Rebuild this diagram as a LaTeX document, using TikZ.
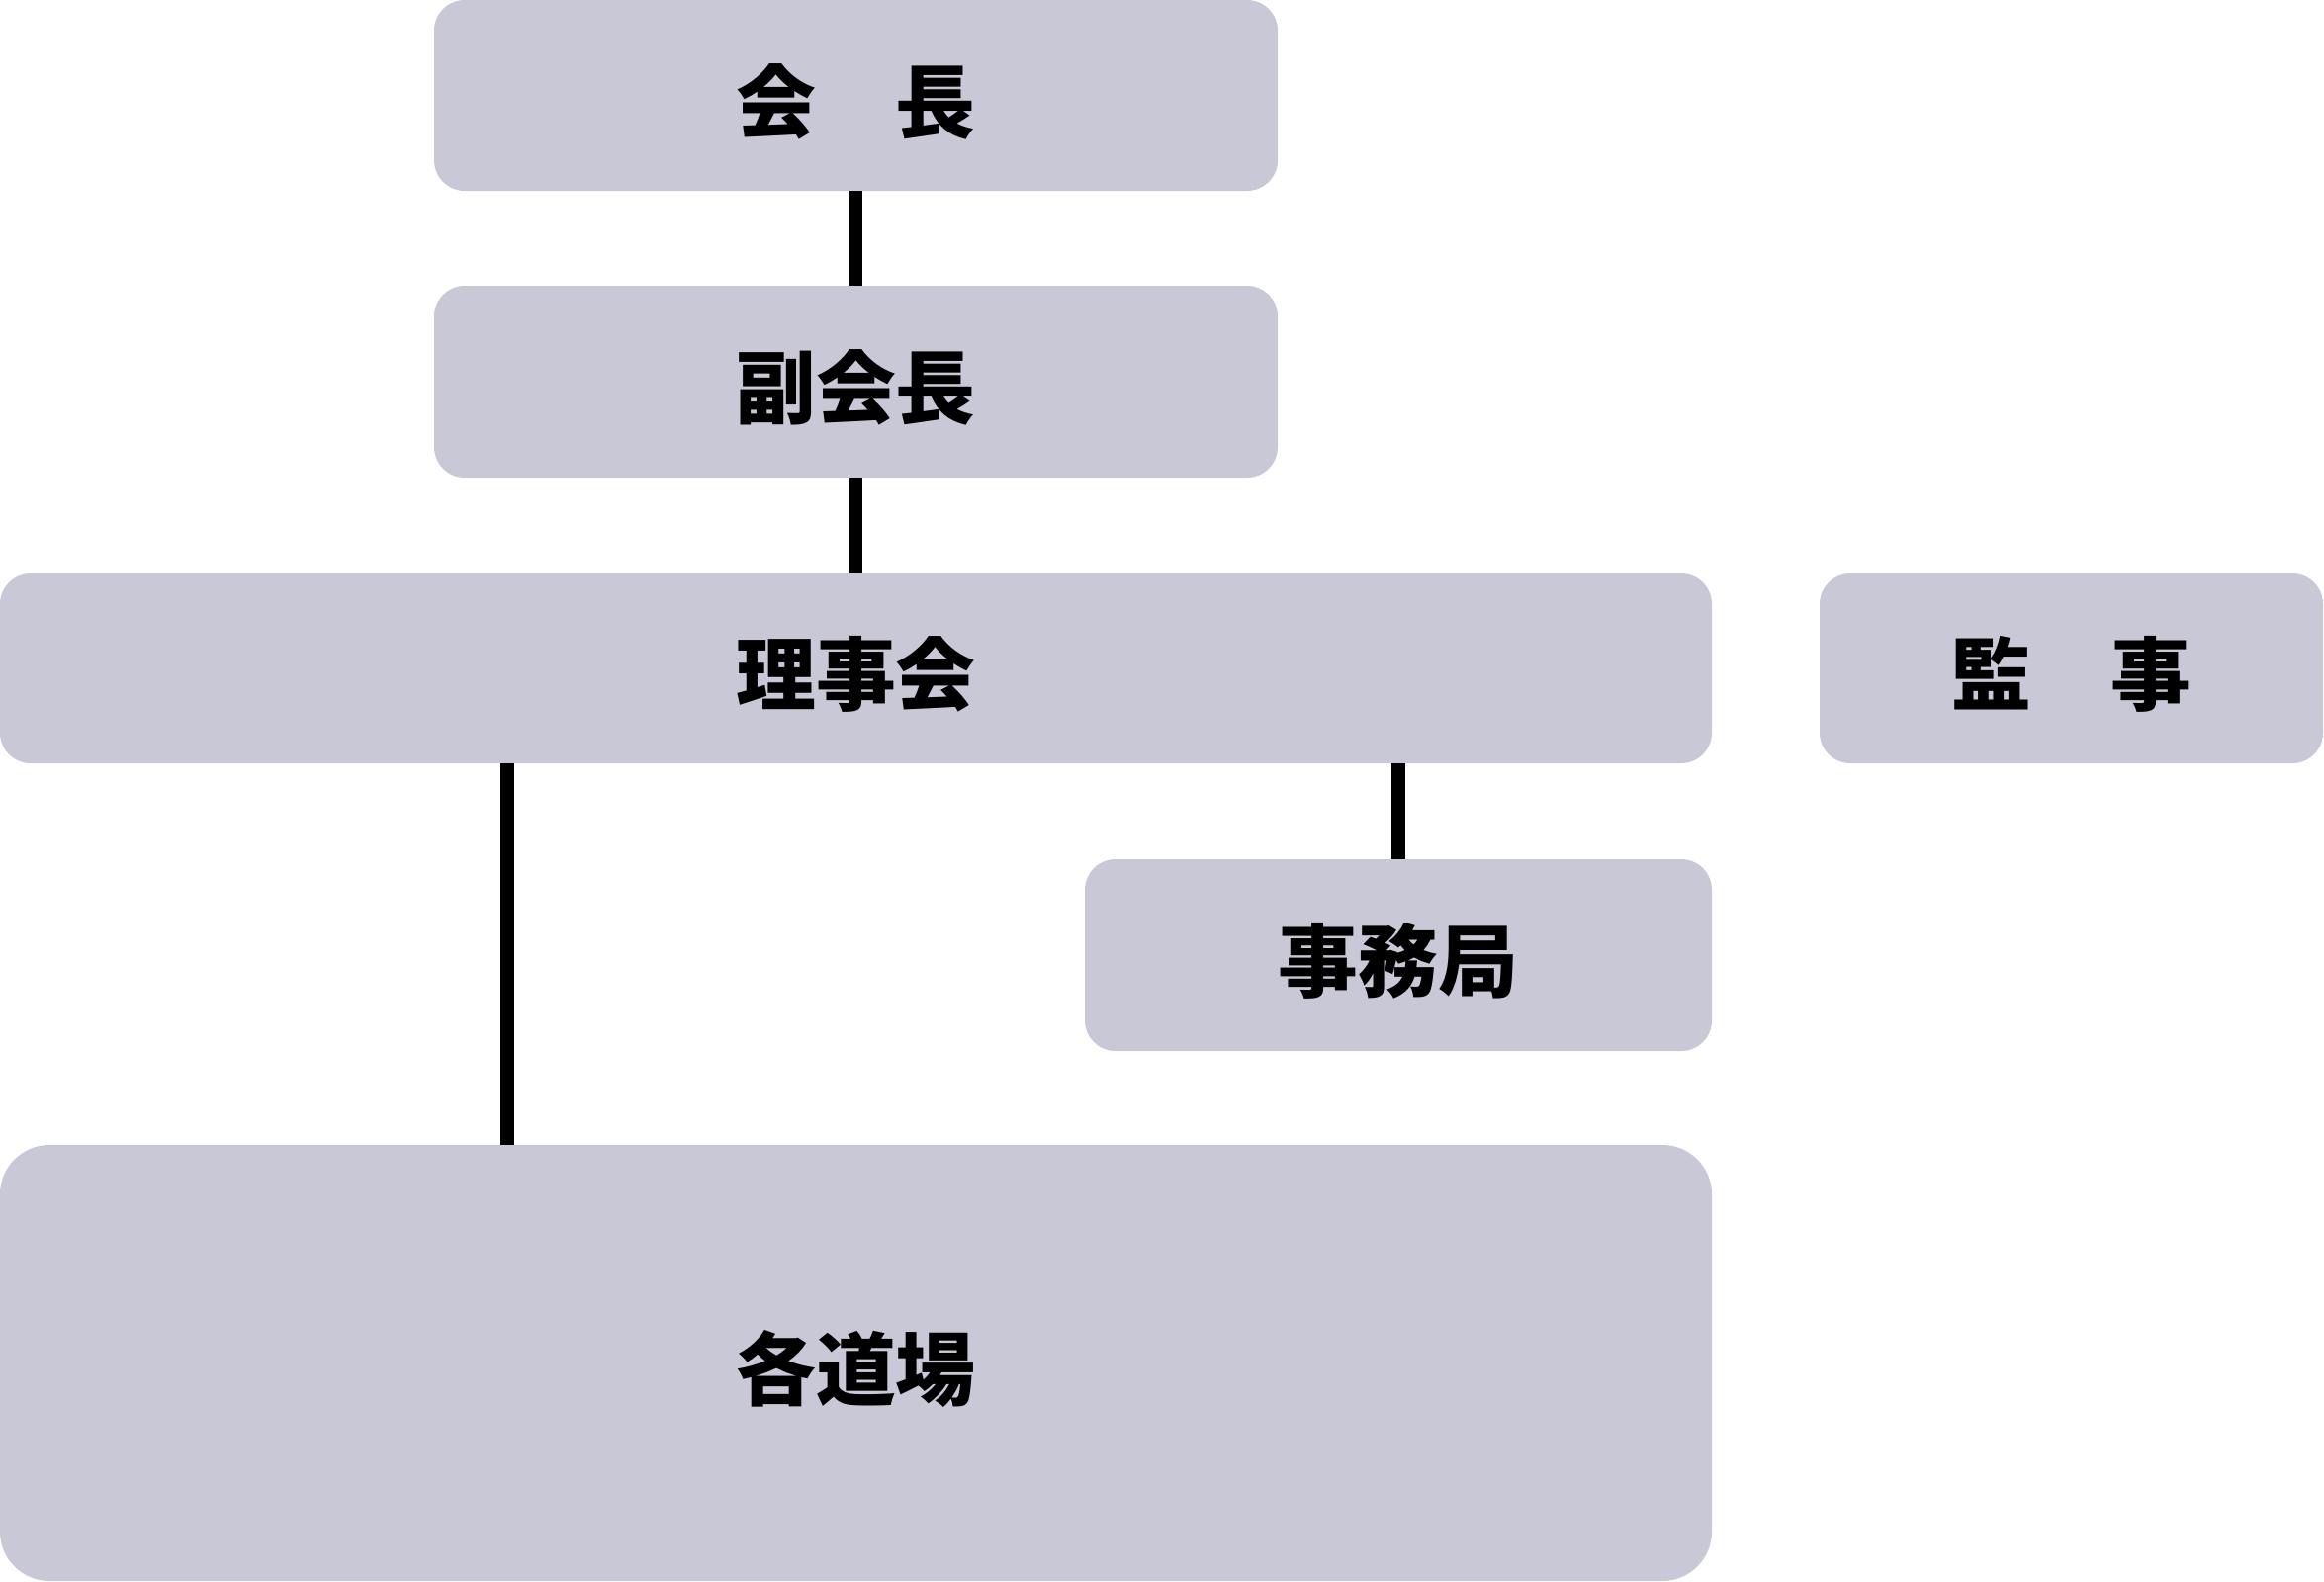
\documentclass[tikz,border=0pt]{standalone}
\usepackage{fontspec}
\newfontfamily\jpfont{Noto Sans CJK JP}
\definecolor{boxgray}{HTML}{C9C8D7}
\newcommand\lowtxt[1]{\raisebox{-1.8pt}[\height][\depth]{#1}}
\begin{document}
\begin{tikzpicture}[
  box/.style={fill=boxgray,rounded corners=0.31cm,inner sep=0pt,outer sep=0pt,
    font=\jpfont\bfseries\fontsize{23}{27}\selectfont},
  link/.style={line width=3.8pt}]
\useasboundingbox (0,0) rectangle (23.5,-15.99);
\foreach \nm/\x/\y/\w/\h/\lab in {
kaicho/8.655/-0.965/8.53/1.93/会　長,
fuku/8.655/-3.86/8.53/1.94/副会長,
riji/8.655/-6.76/17.31/1.92/理事会,
kanji/20.945/-6.76/5.09/1.92/監　事,
jimu/14.14/-9.66/6.34/1.94/事務局}
  \node[box,minimum width=\w cm,minimum height=\h cm] (\nm) at (\x,\y) {\lowtxt{\lab}};
\node[box,rounded corners=0.5cm,minimum width=17.31cm,minimum height=4.41cm] (dojo) at (8.655,-13.785) {\lowtxt{各道場}};
\coordinate (dl) at (5.13,0);
\draw[link] (kaicho) -- (fuku);
\draw[link] (fuku) -- (riji);
\draw[link] (jimu.north |- riji.south) -- (jimu.north);
\draw[link] (dl |- riji.south) -- (dl |- dojo.north);
\end{tikzpicture}
\end{document}
